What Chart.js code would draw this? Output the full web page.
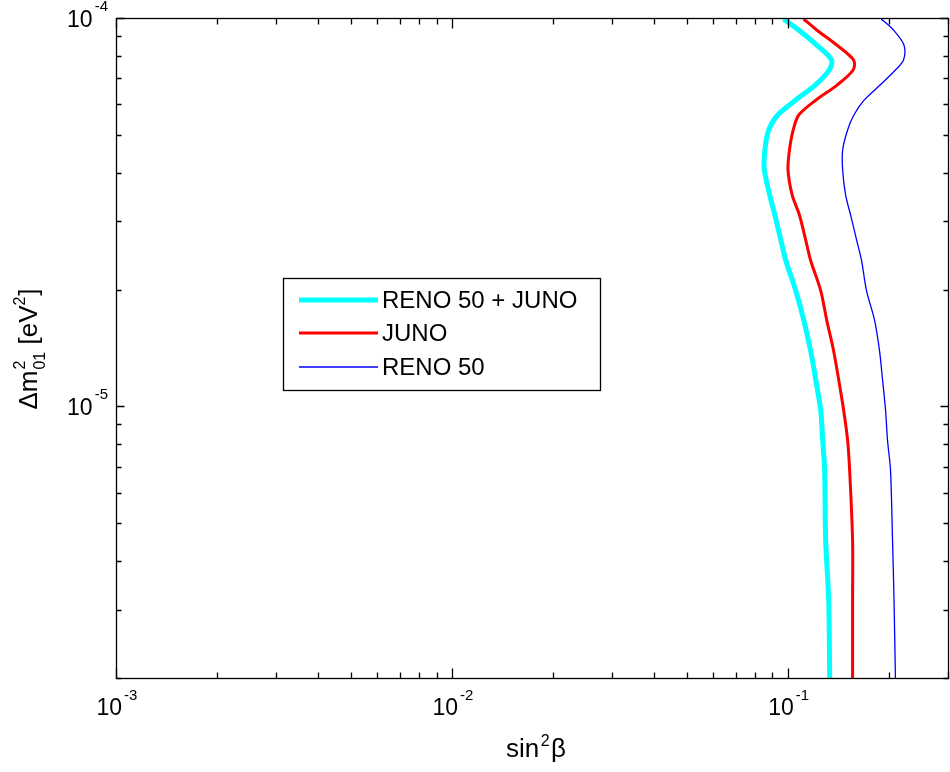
<!DOCTYPE html>
<html>
<head>
<meta charset="utf-8">
<script src="https://cdn.jsdelivr.net/npm/chart.js@4/dist/chart.umd.min.js"></script>
<style>
  html, body { margin: 0; padding: 0; background: #fff; }
  #wrap { width: 950px; height: 772px; }
</style>
</head>
<body>
<div id="wrap"><canvas id="c" width="950" height="772"></canvas></div>
<script>
// Δm²01 values (eV²) shared by all curves
const dm2 = [1.00e-4, 9.37e-5, 8.57e-5, 7.84e-5, 7.39e-5, 6.76e-5, 6.18e-5, 5.66e-5, 5.18e-5, 4.60e-5,
             4.09e-5, 3.52e-5, 3.13e-5, 2.70e-5, 2.39e-5, 2.00e-5, 1.68e-5, 1.40e-5, 1.18e-5, 9.84e-6,
             8.24e-6, 6.90e-6, 4.55e-6, 3.19e-6, 2.00e-6];
// sin²β sensitivity for each configuration
const renoJuno = [0.0966, 0.107, 0.1211, 0.1341, 0.1319, 0.1199, 0.1047, 0.0927, 0.0872, 0.0849,
                  0.0846, 0.0878, 0.0909, 0.0947, 0.0980, 0.1049, 0.1108, 0.1162, 0.1203, 0.1245,
                  0.1262, 0.1279, 0.1288, 0.1315, 0.1324];
const juno = [0.1108, 0.1211, 0.1389, 0.1560, 0.1555, 0.1393, 0.1203, 0.1071, 0.1031, 0.1005,
              0.0995, 0.1024, 0.1076, 0.1123, 0.1162, 0.1245, 0.1297, 0.1360, 0.1408, 0.1457,
              0.1497, 0.1518, 0.1549, 0.1549, 0.1549];
const reno50 = [0.1885, 0.2050, 0.2203, 0.2196, 0.2078, 0.1870, 0.1676, 0.1563, 0.1497, 0.1447,
                0.1447, 0.1477, 0.1528, 0.1592, 0.1647, 0.1704, 0.1800, 0.1863, 0.1902, 0.1942,
                0.1968, 0.2009, 0.2037, 0.2058, 0.2078];
const seriesLabels = ['RENO 50 + JUNO', 'JUNO', 'RENO 50'];

// axis ticks
const xMajorTicks = [1e-3, 1e-2, 1e-1];
const xTickExps = ['-3', '-2', '-1'];
const xMinorTicks = [2e-3, 3e-3, 4e-3, 5e-3, 6e-3, 7e-3, 8e-3, 9e-3,
                     2e-2, 3e-2, 4e-2, 5e-2, 6e-2, 7e-2, 8e-2, 9e-2, 0.2, 0.3];
const yMajorTicks = [1e-5, 1e-4];
const yTickExps = ['-5', '-4'];
const yMinorTicks = [2e-6, 3e-6, 4e-6, 5e-6, 6e-6, 7e-6, 8e-6, 9e-6,
                     2e-5, 3e-5, 4e-5, 5e-5, 6e-5, 7e-5, 8e-5, 9e-5];

const FONT = '"Liberation Sans", Arial, Helvetica, sans-serif';

function pts(xs) { return xs.map((x, i) => ({ x: x, y: dm2[i] })); }

const decor = {
  id: 'decor',
  afterDraw(chart) {
    const ctx = chart.ctx;
    const a = chart.chartArea;
    const xs = chart.scales.x, ys = chart.scales.y;
    ctx.save();
    ctx.strokeStyle = '#000';
    ctx.fillStyle = '#000';
    ctx.lineWidth = 1.3;
    const L = a.left - 0.5, R = a.right - 0.5, T = a.top - 0.5, B = a.bottom - 0.5;
    ctx.strokeRect(L, T, R - L, B - T);

    function tickX(v, len) {
      const px = Math.round(xs.getPixelForValue(v)) - 0.5;
      ctx.beginPath();
      ctx.moveTo(px, B); ctx.lineTo(px, B - len);
      ctx.moveTo(px, T); ctx.lineTo(px, T + len);
      ctx.stroke();
    }
    function tickY(v, len) {
      const py = Math.round(ys.getPixelForValue(v)) - 0.5;
      ctx.beginPath();
      ctx.moveTo(L, py); ctx.lineTo(L + len, py);
      ctx.moveTo(R, py); ctx.lineTo(R - len, py);
      ctx.stroke();
    }
    xMinorTicks.forEach(v => tickX(v, 6));
    xMajorTicks.forEach(v => tickX(v, 10));
    yMinorTicks.forEach(v => tickY(v, 5));
    yMajorTicks.forEach(v => tickY(v, 8));

    const bigF = '23px ' + FONT, supF = '15px ' + FONT;
    ctx.textBaseline = 'alphabetic';
    // x tick labels
    xMajorTicks.forEach((v, i) => {
      const px = xs.getPixelForValue(v);
      ctx.font = bigF; const w1 = ctx.measureText('10').width;
      ctx.font = supF; const w2 = ctx.measureText(xTickExps[i]).width;
      const x0 = px - (w1 + 2 + w2) / 2;
      ctx.font = bigF; ctx.textAlign = 'left';
      ctx.fillText('10', x0, a.bottom + 36);
      ctx.font = supF;
      ctx.fillText(xTickExps[i], x0 + w1 + 2, a.bottom + 21);
    });
    // y tick labels
    yMajorTicks.forEach((v, i) => {
      const py = ys.getPixelForValue(v);
      ctx.font = supF; const w2 = ctx.measureText(yTickExps[i]).width;
      ctx.font = bigF; const w1 = ctx.measureText('10').width;
      const xr = a.left - 9;
      ctx.textAlign = 'left';
      ctx.fillText('10', xr - w2 - 2 - w1, py + 8);
      ctx.font = supF;
      ctx.fillText(yTickExps[i], xr - w2, py - 8);
    });

    // x axis title: sin²β
    {
      const tf = '26px ' + FONT, sf = '16px ' + FONT;
      ctx.font = tf; const w1 = ctx.measureText('sin').width;
      ctx.font = sf; const w2 = ctx.measureText('2').width;
      ctx.font = tf; const w3 = ctx.measureText('β').width;
      const total = w1 + w2 + w3 + 3;
      const cx = (a.left + a.right) / 2 + 3;
      let x = cx - total / 2;
      const base = 757;
      ctx.textAlign = 'left';
      ctx.font = tf; ctx.fillText('sin', x, base); x += w1 + 1.5;
      ctx.font = sf; ctx.fillText('2', x, base - 11); x += w2 + 1.5;
      ctx.font = tf; ctx.fillText('β', x, base);
    }
    // y axis title: Δm²₀₁ [eV²]
    {
      const tf = '26px ' + FONT, sf = '16px ' + FONT;
      ctx.save();
      const cy = (a.top + a.bottom) / 2;
      ctx.translate(37, cy);
      ctx.rotate(-Math.PI / 2);
      ctx.font = tf; const wA = ctx.measureText('Δm').width;
      ctx.font = sf; const wB = ctx.measureText('01').width;
      ctx.font = tf; const wC = ctx.measureText(' [eV').width;
      ctx.font = sf; const wD = ctx.measureText('2').width;
      ctx.font = tf; const wE = ctx.measureText(']').width;
      const total = wA + 1 + wB + wC + wD + 1 + wE;
      let x = -total / 2;
      ctx.textAlign = 'left';
      ctx.font = tf; ctx.fillText('Δm', x, 0); x += wA + 1;
      ctx.font = sf; ctx.fillText('2', x, -12); ctx.fillText('01', x, 8); x += wB;
      ctx.font = tf; ctx.fillText(' [eV', x, 0); x += wC;
      ctx.font = sf; ctx.fillText('2', x, -12); x += wD + 1;
      ctx.font = tf; ctx.fillText(']', x, 0);
      ctx.restore();
    }

    // legend box
    {
      const bx = 283, by = 278, bw = 317, bh = 112;
      ctx.fillStyle = '#fff';
      ctx.fillRect(bx, by, bw, bh);
      ctx.strokeStyle = '#000';
      ctx.lineWidth = 1.3;
      ctx.strokeRect(bx + 0.5, by + 0.5, bw, bh);
      const rows = [300, 333, 367];
      ctx.font = '24px ' + FONT;
      ctx.textAlign = 'left';
      ctx.textBaseline = 'middle';
      chart.data.datasets.forEach((ds, i) => {
        ctx.strokeStyle = ds.borderColor;
        ctx.lineWidth = ds.borderWidth;
        ctx.beginPath();
        ctx.moveTo(299, rows[i]); ctx.lineTo(378, rows[i]);
        ctx.stroke();
        ctx.fillStyle = '#000';
        ctx.fillText(ds.label, 382, rows[i] + 1);
      });
    }
    ctx.restore();
  }
};

new Chart(document.getElementById('c'), {
  type: 'scatter',
  data: {
    datasets: [
      { label: seriesLabels[0], data: pts(renoJuno), borderColor: '#00ffff', borderWidth: 5, showLine: true, pointRadius: 0, tension: 0.3 },
      { label: seriesLabels[1], data: pts(juno), borderColor: '#ff0000', borderWidth: 3, showLine: true, pointRadius: 0, tension: 0.3 },
      { label: seriesLabels[2], data: pts(reno50), borderColor: '#0000ff', borderWidth: 1.3, showLine: true, pointRadius: 0, tension: 0.3 }
    ]
  },
  options: {
    responsive: false,
    animation: false,
    devicePixelRatio: 1,
    layout: { padding: { left: 117, right: 1, top: 19, bottom: 93 } },
    plugins: { legend: { display: false }, tooltip: { enabled: false } },
    scales: {
      x: { type: 'logarithmic', min: 0.001, max: 0.3, display: false },
      y: { type: 'logarithmic', min: 2e-6, max: 1e-4, display: false }
    }
  },
  plugins: [decor]
});
</script>
</body>
</html>
